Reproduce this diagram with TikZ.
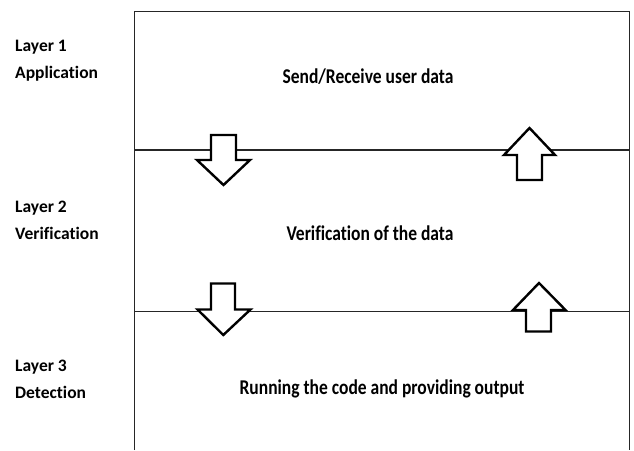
\documentclass[tikz,border=0pt]{standalone}
\usepackage{fontspec}
\usepackage{graphicx}
\setmainfont{Carlito}[Ligatures={NoCommon}]
\newcommand{\tallbox}[1]{\scalebox{1}[1.2]{#1}}
\begin{document}
\begin{tikzpicture}[x=1pt,y=-1pt,
  rule/.style={draw=black!85,line width=1.1pt},
  fatarrow/.style={draw=black,fill=white,line width=2.4pt,line join=miter},
  lbl/.style={font=\bfseries\fontsize{17.5}{27}\selectfont,align=left,anchor=west,inner sep=0pt},
  mid/.style={font=\bfseries\fontsize{17.5}{27}\selectfont,inner sep=0pt}]
\useasboundingbox (0,0) rectangle (634,450);
% frame and layer boundaries
\coordinate (tl) at (134.5,11.5);
\coordinate (tr) at (629.5,11.5);
\coordinate (bl) at (134.5,450);
\coordinate (br) at (629.5,450);
\draw[rule] (bl) -- (tl) -- (tr) -- (br);
\coordinate (a1) at (134.5,150);
\coordinate (b1) at (629.5,150);
\coordinate (a2) at (134.5,311.7);
\coordinate (b2) at (629.5,311.7);
\draw[rule] (a1) -- (b1);
\draw[rule] (a2) -- (b2);
% block arrows between layers
\draw[fatarrow] (211,135) -- (236,135) -- (236,160) -- (250,160) -- (223.5,185) -- (197,160) -- (211,160) -- cycle;
\draw[fatarrow] (517,180) -- (542,180) -- (542,155) -- (555,155) -- (529.5,128) -- (504,155) -- (517,155) -- cycle;
\draw[fatarrow] (211,283.5) -- (235,283.5) -- (235,309.5) -- (250.5,309.5) -- (223.3,335) -- (197.5,309.5) -- (211,309.5) -- cycle;
\draw[fatarrow] (526,331.5) -- (551,331.5) -- (551,310) -- (565.5,310) -- (539,283) -- (513,310) -- (526,310) -- cycle;
% layer names
\node[lbl] (l1) at (15,61) {Layer 1\\Application};
\node[lbl] (l2) at (15,220) {Layer 2\\Verification};
\node[lbl] (l3) at (15,379) {Layer 3\\Detection};
% layer roles
\node[mid] (m1) at (368,77) {\tallbox{Send/Receive user data}};
\node[mid] (m2) at (370,233) {\tallbox{Verification of the data}};
\node[mid] (m3) at (382,389) {\tallbox{Running the code and providing output}};
\end{tikzpicture}
\end{document}
